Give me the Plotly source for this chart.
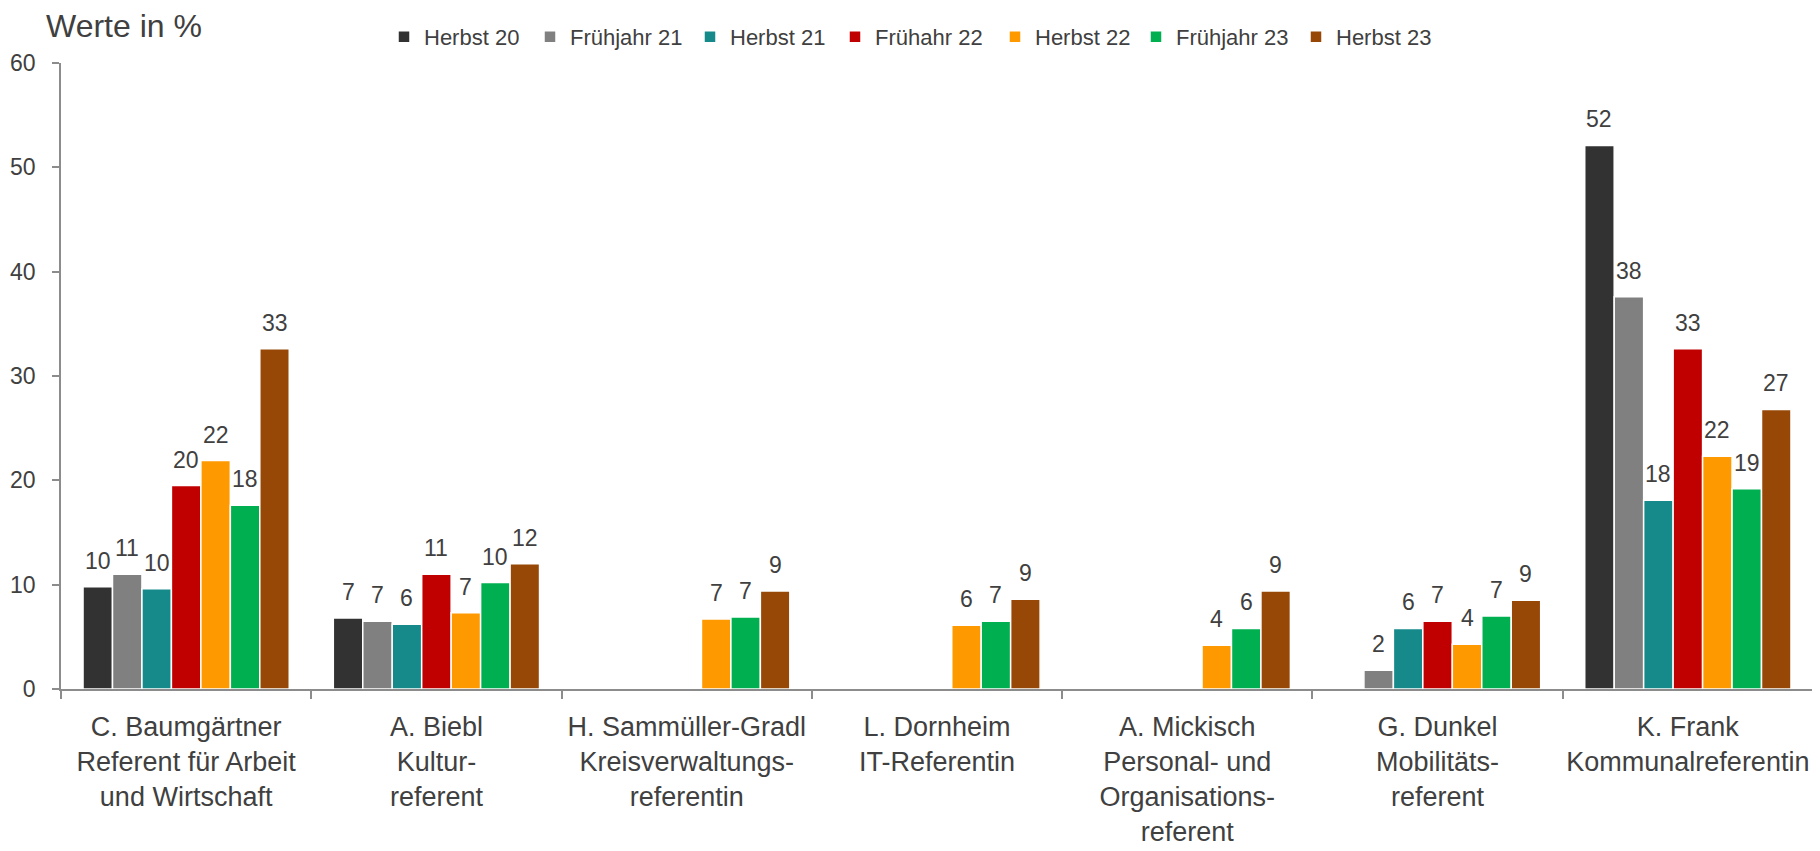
import math
import plotly.graph_objects as go

categories = [
    "C. Baumgärtner<br>Referent für Arbeit<br>und Wirtschaft",
    "A. Biebl<br>Kultur-<br>referent",
    "H. Sammüller-Gradl<br>Kreisverwaltungs-<br>referentin",
    "L. Dornheim<br>IT-Referentin",
    "A. Mickisch<br>Personal- und<br>Organisations-<br>referent",
    "G. Dunkel<br>Mobilitäts-<br>referent",
    "K. Frank<br>Kommunalreferentin",
]

series_names = ["Herbst 20", "Frühjahr 21", "Herbst 21", "Frühahr 22",
                "Herbst 22", "Frühjahr 23", "Herbst 23"]

herbst_20 = [9.8, 6.8, None, None, None, None, 52.1]
fruehjahr_21 = [11.0, 6.5, None, None, None, 1.8, 37.6]
herbst_21 = [9.6, 6.2, None, None, None, 5.8, 18.1]
fruehahr_22 = [19.5, 11.0, None, None, None, 6.5, 32.6]
herbst_22 = [21.9, 7.3, 6.7, 6.1, 4.2, 4.3, 22.3]
fruehjahr_23 = [17.6, 10.2, 6.9, 6.5, 5.8, 7.0, 19.2]
herbst_23 = [32.6, 12.0, 9.4, 8.6, 9.4, 8.5, 26.8]

series_values = [herbst_20, fruehjahr_21, herbst_21, fruehahr_22,
                 herbst_22, fruehjahr_23, herbst_23]

colors = ["#323232", "#808080", "#168A8A", "#C00000",
          "#FF9900", "#00AF50", "#974807"]

# legend entry widths (px) per series, to match the reference spacing
legend_widths = [101, 115, 100, 115, 96, 115, 100]

y_ticks = [0, 10, 20, 30, 40, 50, 60]

FONT = "Liberation Sans, Arial, sans-serif"
TXT = "#404040"
AXC = "#8C8C8C"

W, H = 1820, 851
ML, MR, MT, MB = 53, 15, 55, 170
BARGAP = 0.176

fig = go.Figure()
for name, vals, col, lw in zip(series_names, series_values, colors, legend_widths):
    fig.add_trace(go.Bar(
        name=name, x=categories, y=vals,
        marker=dict(color=col, line=dict(color="white", width=1.5)),
        legendwidth=lw,
        hoverinfo="x+y",
    ))

plot_w = W - ML - MR
plot_h = H - MT - MB
bw = plot_w / len(categories) * (1 - BARGAP) / len(series_names)
annotations = []
n = len(series_names)
for i, vals in enumerate(series_values):
    for cat, v in zip(categories, vals):
        if v is None:
            continue
        annotations.append(dict(
            x=cat, y=v, xref="x", yref="y",
            text=str(int(math.floor(v + 0.5))),
            showarrow=False, yanchor="bottom", xanchor="center",
            xshift=(i - (n - 1) / 2) * bw, yshift=11,
            font=dict(family=FONT, size=23, color=TXT),
        ))

fig.update_layout(
    width=W, height=H,
    margin=dict(l=ML, r=MR, t=MT, b=MB, autoexpand=False),
    paper_bgcolor="white", plot_bgcolor="white",
    barmode="group", bargap=BARGAP, bargroupgap=0,
    font=dict(family=FONT, color=TXT),
    title=dict(text="Werte in %", x=38 / W, xanchor="left",
               y=1 - 18 / H, yanchor="middle",
               font=dict(family=FONT, size=32, color=TXT)),
    legend=dict(orientation="h", x=(376 - ML) / plot_w, xanchor="left",
                y=1 + 26 / plot_h, yanchor="middle",
                font=dict(family=FONT, size=22, color=TXT),
                bgcolor="rgba(0,0,0,0)", traceorder="normal"),
    annotations=annotations,
    xaxis=dict(showline=True, linecolor=AXC, linewidth=1.5,
               ticks="outside", tickson="boundaries", ticklen=8,
               tickcolor=AXC, tickwidth=1.5, showgrid=False,
               automargin=False, tickangle=0,
               tickfont=dict(family=FONT, size=27, color=TXT),
               ticklabelstandoff=13),
    yaxis=dict(range=[0, 60], tickvals=y_ticks, showline=True,
               linecolor=AXC, linewidth=1.5, ticks="outside", ticklen=7,
               tickcolor=AXC, tickwidth=1.5, showgrid=False,
               zeroline=False, automargin=False,
               tickfont=dict(family=FONT, size=23, color=TXT),
               ticklabelstandoff=12),
)

fig.write_html("out.html")
